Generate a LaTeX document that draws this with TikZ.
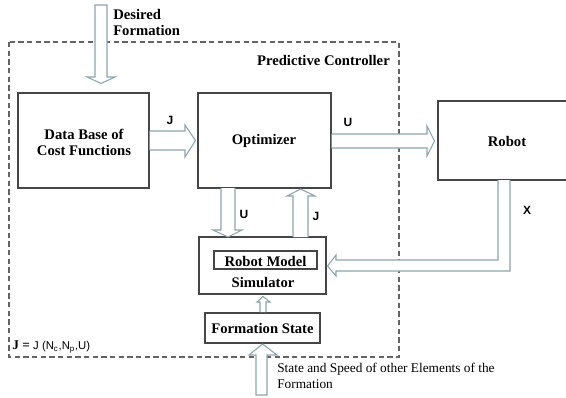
\documentclass[tikz,border=0pt]{standalone}
\usepackage{fontspec}
\setmainfont{Liberation Serif}
\setsansfont{Liberation Sans}
\usetikzlibrary{fit,calc}
\definecolor{boxc}{RGB}{70,70,70}
\definecolor{arrc}{RGB}{140,165,170}
\definecolor{dashc}{RGB}{100,100,100}
\begin{document}
\begin{tikzpicture}[x=0.75pt,y=-0.75pt,
  box/.style={draw=boxc, line width=0.8pt, inner sep=0pt},
  barrow/.style={draw=arrc, line width=0.8pt, fill=white, line join=miter},
  lab/.style={font=\sffamily\bfseries\fontsize{9}{10}\selectfont, inner sep=0pt},
  txt/.style={font=\bfseries\fontsize{11}{12}\selectfont, inner sep=0pt, align=center},
]
\useasboundingbox (0,0) rectangle (566,397);
% predictive controller frame
\draw[dashc, line width=0.8pt, dash pattern=on 4pt off 2.5pt] (9,42) rectangle (399,357);
\node[txt, anchor=east] (pc) at (390,60) {Predictive Controller};

% boxes
\node[box, fit={(18,93)(149,188)}] (db) {};
\node[txt] (dbt) at (84,142) {Data Base of\\Cost Functions};
\node[box, fit={(198,93)(331,188)}] (opt) {};
\node[txt] (optt) at (264,141) {Optimizer};
\node[box, fit={(438,101)(576,180)}] (rob) {};
\node[txt] (robt) at (507,141) {Robot};
\node[box, fit={(199,237)(326,294)}] (sim) {};
\node[box, fit={(214,251)(317,269)}] (rm) {};
\node[txt] (rmt) at (265.5,261) {Robot Model};
\node[txt] (simt) at (263,282) {Simulator};
\node[box, fit={(205,313)(320,343)}] (fs) {};
\node[txt] (fst) at (262.5,328.5) {Formation State};

% desired formation arrow
\node[txt, align=left, anchor=west] (df) at (113,22) {Desired\\Formation};
\draw[barrow] (95,5) -- (107,5) -- (107,77) -- (115,77) -- ($(db.north)+(17.5,-9)$) -- (87,77) -- (95,77) -- cycle;

% J arrow db -> opt
\draw[barrow] ($(db.east)+(0,-9.5)$) -- (185,131) -- (185,125) -- ($(opt.west)+(-2,0)$) -- (185,157) -- (185,150) -- ($(db.east)+(0,9.5)$);
\node[lab] at (170,120) {J};

% U arrow opt -> robot
\draw[barrow] ($(opt.east)+(0,-6.5)$) -- (427,134) -- (427,126) -- ($(rob.west)+(-3,0.5)$) -- (427,156) -- (427,148) -- ($(opt.east)+(0,7.5)$);
\node[lab] at (348,122) {U};

% U down opt -> sim
\draw[barrow] (221,188) -- (221,230) -- (213,230) -- (228,237) -- (242,230) -- (235,230) -- (235,188);
\node[lab] at (244,214) {U};

% J up sim -> opt
\draw[barrow] (293,237) -- (293,196) -- (287,196) -- (300.5,189) -- (315,196) -- (308,196) -- (308,237);
\node[lab] at (316,216) {J};

% X feedback robot -> sim
\draw[barrow] (510,180) -- (510,271) -- (336,271) -- (336,276) -- ($(sim.east)+(1,0.5)$) -- (336,255) -- (336,260) -- (498,260) -- (498,180);
\node[lab] at (527,210) {X};

% small arrow fs -> sim
\draw[barrow] (260,312) -- (260,302) -- (257,302) -- (263,296.5) -- (270,302) -- (266,302) -- (266,312);

% bottom arrow -> fs
\draw[barrow] (256,395) -- (256,355) -- (249,355) -- (262.5,344) -- (277,355) -- (267,355) -- (267,395) -- cycle;
\node[font=\fontsize{10}{12}\selectfont, inner sep=0pt, align=left, anchor=west] (ss) at (277,376) {State and Speed of other Elements of the\\Formation};

% formula
\node[inner sep=0pt, anchor=west] (eq) at (12,347) {\textbf{J =} {\sffamily\fontsize{8.5}{10}\selectfont J (N\textsubscript{c},N\textsubscript{p},U)}};
\end{tikzpicture}
\end{document}
